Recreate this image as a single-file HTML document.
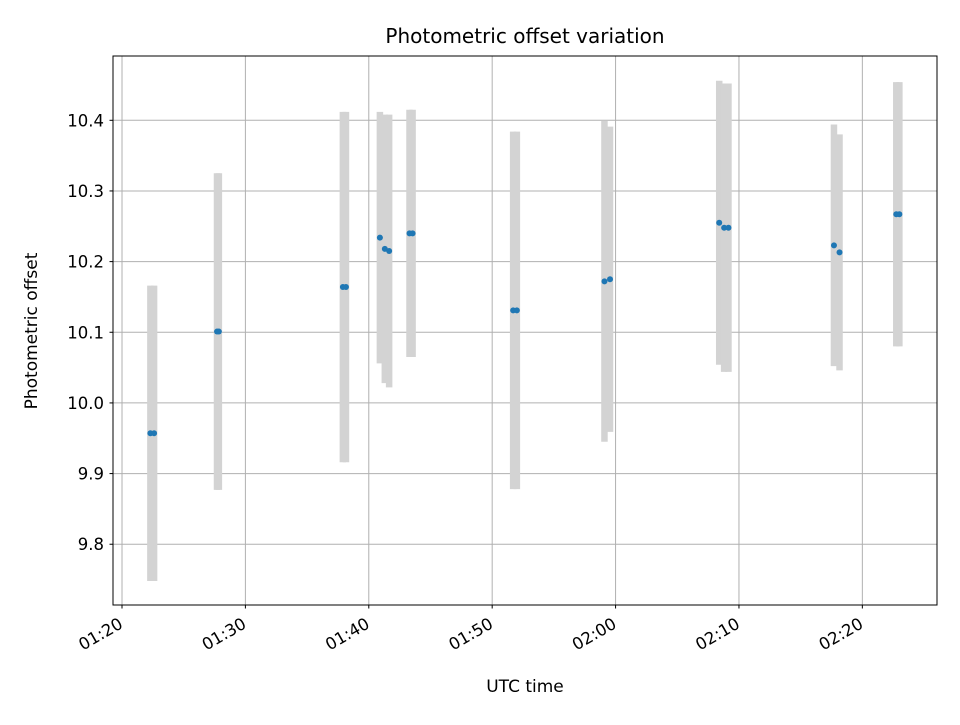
<!DOCTYPE html>
<html><head><meta charset="utf-8">
<style>
body{margin:0;background:#fff;}
svg text{font-family:"DejaVu Sans","Liberation Sans",sans-serif;fill:#000;}
</style></head>
<body>
<svg id="chart" width="960" height="720" xmlns="http://www.w3.org/2000/svg">
<rect width="960" height="720" fill="#fff"/>
<g id="grid"></g>
<g id="bars"></g>
<g id="points"></g>
<rect x="113" y="56" width="824" height="549" fill="none" stroke="#000" stroke-width="1"/>
<g id="axes"></g>
<text x="525" y="43" font-size="20" text-anchor="middle">Photometric offset variation</text>
<text x="525" y="692" font-size="17" text-anchor="middle">UTC time</text>
<text x="0" y="0" font-size="17" text-anchor="middle" transform="translate(37,331) rotate(-90)">Photometric offset</text>
</svg>
<script>
// minutes after 01:20 UTC
const times = [2.3, 2.6, 7.7, 7.85, 17.9, 18.15, 20.9, 21.3, 21.65, 23.3, 23.55, 31.7, 32.0, 39.1, 39.55, 48.4, 48.8, 49.15, 57.7, 58.15, 62.75, 63.0];
const values = [9.957, 9.957, 10.101, 10.101, 10.164, 10.164, 10.234, 10.218, 10.215, 10.240, 10.240, 10.131, 10.131, 10.172, 10.175, 10.255, 10.248, 10.248, 10.223, 10.213, 10.267, 10.267];
const errors = [0.209, 0.209, 0.224, 0.224, 0.248, 0.248, 0.178, 0.190, 0.193, 0.175, 0.175, 0.253, 0.253, 0.227, 0.216, 0.201, 0.204, 0.204, 0.171, 0.167, 0.187, 0.187];
const yTicks = [9.8, 9.9, 10.0, 10.1, 10.2, 10.3, 10.4];
const xTicks = [0, 10, 20, 30, 40, 50, 60];
const xTickLabels = ["01:20", "01:30", "01:40", "01:50", "02:00", "02:10", "02:20"];

const NS = "http://www.w3.org/2000/svg";
const X0 = 113, X1 = 937, Y0 = 56, Y1 = 605;
const xmin = -0.73, xmax = 66.05, ymin = 9.714, ymax = 10.491;
const xs = m => X0 + (m - xmin) / (xmax - xmin) * (X1 - X0);
const ys = v => Y1 - (v - ymin) / (ymax - ymin) * (Y1 - Y0);
function mk(tag, attrs, parent){const e=document.createElementNS(NS,tag);for(const k in attrs)e.setAttribute(k,attrs[k]);parent.appendChild(e);return e;}
const grid = document.getElementById('grid'), axes = document.getElementById('axes');
const bars = document.getElementById('bars'), pts = document.getElementById('points');

yTicks.forEach(t => {
  const y = ys(t);
  const g = mk('line',{x1:X0,x2:X1,y1:y,y2:y,stroke:'#b0b0b0','stroke-width':1},grid);
  
  
  const tk = mk('line',{x1:X0-3.5,x2:X0,y1:y,y2:y,stroke:'#000','stroke-width':1},axes);
  
  
  const tx = mk('text',{x:X0-9,y:y+6,'font-size':16.5,'text-anchor':'end'},axes);
  tx.textContent = t.toFixed(1);
  
  
});
xTicks.forEach((t,i) => {
  const x = xs(t);
  const g = mk('line',{x1:x,x2:x,y1:Y0,y2:Y1,stroke:'#b0b0b0','stroke-width':1},grid);
  
  
  const tk = mk('line',{x1:x,x2:x,y1:Y1,y2:Y1+3.5,stroke:'#000','stroke-width':1},axes);
  
  
  const tx = mk('text',{x:0,y:0,'font-size':16.5,'text-anchor':'end',transform:`translate(${x+2},${Y1+22}) rotate(-30)`},axes);
  tx.textContent = xTickLabels[i];
  
  
});
times.forEach((t,i) => {
  const x = xs(t);
  const b = mk('line',{x1:x,x2:x,y1:ys(values[i]+errors[i]),y2:ys(values[i]-errors[i]),stroke:'#d3d3d3','stroke-width':6.5},bars);
  
  
});
times.forEach((t,i) => {
  const c = mk('circle',{cx:xs(t),cy:ys(values[i]),r:3,fill:'#1f77b4'},pts);
  
  
});
</script>
</body></html>
